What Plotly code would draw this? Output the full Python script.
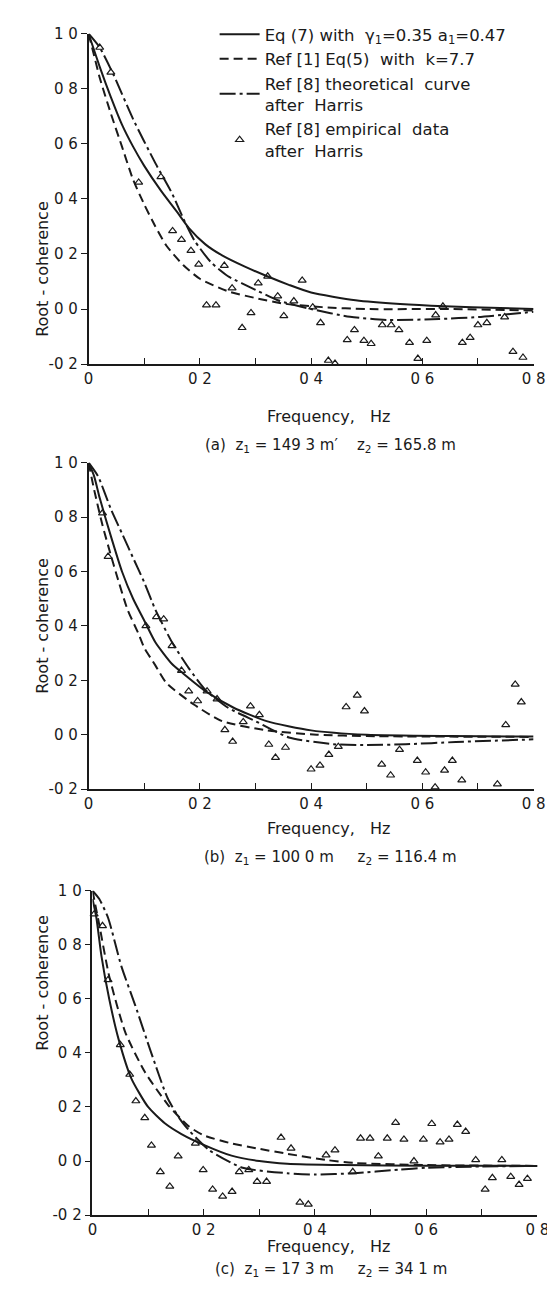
import plotly.graph_objects as go

# values: frequency (Hz) / root-coherence

# --- (a) z1 = 149.3 m, z2 = 165.8 m ---
a_eq7_f = [0, 0.02, 0.04, 0.06, 0.08, 0.10, 0.13, 0.16, 0.18, 0.21, 0.24, 0.28, 0.32, 0.36, 0.40, 0.48, 0.56, 0.64, 0.74, 0.80]
a_eq7_v = [1.0, 0.88, 0.77, 0.67, 0.59, 0.52, 0.43, 0.35, 0.295, 0.235, 0.195, 0.155, 0.12, 0.088, 0.06, 0.032, 0.018, 0.01, 0.004, 0.0]
a_ref1_f = [0, 0.01, 0.02, 0.04, 0.06, 0.08, 0.10, 0.12, 0.14, 0.17, 0.20, 0.25, 0.30, 0.35, 0.42, 0.50, 0.65, 0.80]
a_ref1_v = [1.0, 0.92, 0.84, 0.71, 0.59, 0.47, 0.38, 0.30, 0.23, 0.16, 0.11, 0.065, 0.04, 0.02, 0.007, 0.0, 0.0, -0.005]
a_harris_f = [0, 0.02, 0.045, 0.08, 0.12, 0.15, 0.17, 0.19, 0.22, 0.25, 0.30, 0.34, 0.40, 0.47, 0.54, 0.63, 0.70, 0.80]
a_harris_v = [1.0, 0.95, 0.85, 0.69, 0.53, 0.42, 0.33, 0.25, 0.17, 0.12, 0.07, 0.032, 0.0, -0.028, -0.04, -0.036, -0.029, -0.01]
a_emp_f = [0.02, 0.04, 0.09, 0.13, 0.151, 0.167, 0.184, 0.198, 0.212, 0.229, 0.244, 0.258, 0.276, 0.292,
           0.305, 0.322, 0.340, 0.351, 0.369, 0.384, 0.403, 0.417, 0.431, 0.443, 0.465, 0.478, 0.495, 0.508,
           0.528, 0.544, 0.558, 0.577, 0.592, 0.608, 0.624, 0.637, 0.672, 0.686, 0.700, 0.716, 0.748, 0.763, 0.781]
a_emp_v = [0.95, 0.86, 0.46, 0.48, 0.284, 0.252, 0.212, 0.162, 0.014, 0.014, 0.158, 0.076, -0.068, -0.014,
           0.094, 0.119, 0.047, -0.025, 0.029, 0.104, 0.007, -0.05, -0.187, -0.198, -0.112, -0.076, -0.115, -0.126,
           -0.058, -0.058, -0.076, -0.122, -0.18, -0.115, -0.022, 0.01, -0.122, -0.104, -0.058, -0.05, -0.029, -0.155, -0.176]

# --- (b) z1 = 100.0 m, z2 = 116.4 m ---
b_eq7_f = [0, 0.01, 0.02, 0.04, 0.06, 0.08, 0.10, 0.12, 0.15, 0.17, 0.21, 0.26, 0.32, 0.40, 0.50, 0.65, 0.80]
b_eq7_v = [1.0, 0.95, 0.87, 0.73, 0.60, 0.50, 0.42, 0.34, 0.26, 0.225, 0.16, 0.10, 0.05, 0.016, 0.0, -0.005, -0.007]
b_ref1_f = [0, 0.01, 0.025, 0.04, 0.05, 0.07, 0.09, 0.10, 0.12, 0.14, 0.19, 0.24, 0.32, 0.41, 0.50, 0.80]
b_ref1_v = [1.0, 0.90, 0.77, 0.66, 0.59, 0.46, 0.37, 0.32, 0.255, 0.19, 0.11, 0.05, 0.016, 0.0, -0.005, -0.008]
b_harris_f = [0, 0.017, 0.04, 0.06, 0.08, 0.10, 0.12, 0.15, 0.18, 0.21, 0.25, 0.30, 0.36, 0.44, 0.50, 0.57, 0.66, 0.80]
b_harris_v = [1.0, 0.95, 0.83, 0.74, 0.65, 0.56, 0.46, 0.34, 0.245, 0.165, 0.10, 0.05, -0.01, -0.035, -0.038, -0.035, -0.027, -0.017]
b_emp_f = [0.025, 0.035, 0.103, 0.122, 0.135, 0.15, 0.167, 0.18, 0.196, 0.213, 0.231, 0.245, 0.259, 0.278,
           0.291, 0.307, 0.324, 0.336, 0.354, 0.40, 0.416, 0.432, 0.449, 0.463, 0.483, 0.496, 0.527, 0.543,
           0.559, 0.591, 0.606, 0.623, 0.64, 0.654, 0.671, 0.735, 0.75, 0.767, 0.778]
b_emp_v = [0.815, 0.655, 0.40, 0.433, 0.425, 0.327, 0.236, 0.16, 0.124, 0.16, 0.131, 0.018, -0.025, 0.047,
           0.105, 0.073, -0.036, -0.084, -0.047, -0.127, -0.113, -0.073, -0.044, 0.102, 0.145, 0.087, -0.109, -0.149,
           -0.055, -0.095, -0.138, -0.193, -0.131, -0.095, -0.167, -0.182, 0.036, 0.185, 0.12]

# --- (c) z1 = 17.3 m, z2 = 34.1 m ---
c_eq7_f = [0, 0.007, 0.016, 0.03, 0.047, 0.07, 0.10, 0.13, 0.16, 0.20, 0.25, 0.30, 0.35, 0.45, 0.60, 0.80]
c_eq7_v = [0.97, 0.90, 0.76, 0.60, 0.45, 0.305, 0.20, 0.14, 0.10, 0.06, 0.02, 0.0, -0.01, -0.015, -0.017, -0.018]
c_ref1_f = [0, 0.012, 0.03, 0.059, 0.094, 0.135, 0.172, 0.20, 0.25, 0.30, 0.35, 0.42, 0.47, 0.60, 0.80]
c_ref1_v = [1.0, 0.876, 0.684, 0.476, 0.33, 0.21, 0.13, 0.095, 0.065, 0.045, 0.027, 0.004, -0.007, -0.015, -0.018]
c_harris_f = [0, 0.012, 0.028, 0.052, 0.077, 0.105, 0.135, 0.157, 0.175, 0.21, 0.27, 0.35, 0.40, 0.47, 0.55, 0.60, 0.70, 0.80]
c_harris_v = [1.0, 0.97, 0.90, 0.72, 0.575, 0.404, 0.233, 0.156, 0.11, 0.04, -0.025, -0.045, -0.05, -0.045, -0.032, -0.025, -0.02, -0.018]
c_emp_f = [0.003, 0.018, 0.028, 0.05, 0.067, 0.078, 0.094, 0.106, 0.122, 0.139, 0.154, 0.185, 0.199, 0.216,
           0.234, 0.251, 0.264, 0.281, 0.296, 0.313, 0.339, 0.357, 0.373, 0.388, 0.42, 0.436, 0.468, 0.482,
           0.499, 0.514, 0.53, 0.545, 0.56, 0.578, 0.595, 0.61, 0.625, 0.641, 0.656, 0.671, 0.689, 0.706,
           0.719, 0.736, 0.752, 0.767, 0.782]
c_emp_v = [0.913, 0.87, 0.67, 0.43, 0.32, 0.222, 0.16, 0.058, -0.04, -0.094, 0.018, 0.065, -0.033, -0.105,
           -0.131, -0.113, -0.04, -0.033, -0.076, -0.076, 0.087, 0.047, -0.153, -0.16, 0.022, 0.04, -0.04, 0.084,
           0.084, 0.018, 0.084, 0.142, 0.08, 0.0, 0.08, 0.138, 0.07, 0.08, 0.135, 0.109, 0.004, -0.105,
           -0.062, 0.004, -0.058, -0.087, -0.065]

x_tick_vals = [0, 0.2, 0.4, 0.6, 0.8]
x_tick_text = ["0", "0 2", "0 4", "0 6", "0 8"]
x_minor_vals = [0.1, 0.3, 0.5, 0.7]
y_tick_vals = [-0.2, 0, 0.2, 0.4, 0.6, 0.8, 1.0]
y_tick_text = ["-0 2", "0 0", "0 2", "0 4", "0 6", "0 8", "1 0"]

legend_names = [
    "Eq (7) with  γ<sub>1</sub>=0.35 a<sub>1</sub>=0.47",
    "Ref [1] Eq(5)  with  k=7.7",
    "Ref [8] theoretical  curve<br>after  Harris",
    "Ref [8] empirical  data<br>after  Harris",
]
captions = [
    "(a)  z<sub>1</sub> = 149 3 m′    z<sub>2</sub> = 165.8 m",
    "(b)  z<sub>1</sub> = 100 0 m     z<sub>2</sub> = 116.4 m",
    "(c)  z<sub>1</sub> = 17 3 m     z<sub>2</sub> = 34 1 m",
]

W, H = 555, 1295
FONT = "DejaVu Sans"
INK = "#1a1a1a"

# pixel boxes of the three plot areas: (left, right, top, bottom)
boxes = [(78, 537, 17, 352), (78, 537, 452, 783), (82, 541, 886, 1215)]
xtitle_y = [393, 823, 1258]
caption_y = [423, 852, 1282]

panels = [
    (a_eq7_f, a_eq7_v, a_ref1_f, a_ref1_v, a_harris_f, a_harris_v, a_emp_f, a_emp_v),
    (b_eq7_f, b_eq7_v, b_ref1_f, b_ref1_v, b_harris_f, b_harris_v, b_emp_f, b_emp_v),
    (c_eq7_f, c_eq7_v, c_ref1_f, c_ref1_v, c_harris_f, c_harris_v, c_emp_f, c_emp_v),
]

fig = go.Figure()
layout = {}
annotations = []

for i, (ef, ev, rf, rv, hf, hv, pf, pv) in enumerate(panels):
    sfx = "" if i == 0 else str(i + 1)
    xa, ya = "x" + sfx, "y" + sfx
    first = i == 0
    fig.add_trace(go.Scatter(
        x=ef, y=ev, mode="lines", name=legend_names[0], xaxis=xa, yaxis=ya, showlegend=first,
        line=dict(color=INK, width=2, shape="spline", smoothing=0.6),
    ))
    fig.add_trace(go.Scatter(
        x=rf, y=rv, mode="lines", name=legend_names[1], xaxis=xa, yaxis=ya, showlegend=first,
        line=dict(color=INK, width=2, dash="9px,5px", shape="spline", smoothing=0.6),
    ))
    fig.add_trace(go.Scatter(
        x=hf, y=hv, mode="lines", name=legend_names[2], xaxis=xa, yaxis=ya, showlegend=first,
        line=dict(color=INK, width=2, dash="16px,4px,3px,4px", shape="spline", smoothing=0.6),
    ))
    fig.add_trace(go.Scatter(
        x=pf, y=pv, mode="markers", name=legend_names[3], xaxis=xa, yaxis=ya, showlegend=first,
        cliponaxis=False,
        marker=dict(symbol="triangle-up-open", size=7, color=INK, line=dict(width=1.2)),
    ))

    left, right, top, bottom = boxes[i]
    layout["xaxis" + sfx] = dict(
        domain=[left / W, right / W], range=[0, 0.8], anchor=ya,
        showline=True, linecolor=INK, linewidth=1.6, ticks="inside", ticklen=6, tickwidth=1.4,
        tickcolor=INK, tickvals=x_tick_vals, ticktext=x_tick_text, showgrid=False, zeroline=False,
        minor=dict(tickmode="array", tickvals=x_minor_vals, ticks="inside", ticklen=6,
                   tickwidth=1.4, tickcolor=INK, showgrid=False),
        tickfont=dict(size=15, family=FONT, color=INK),
    )
    layout["yaxis" + sfx] = dict(
        domain=[1 - bottom / H, 1 - top / H], range=[-0.2, 1.0], anchor=xa,
        showline=True, linecolor=INK, linewidth=1.6, ticks="outside", ticklen=6, tickwidth=1.4,
        tickcolor=INK, tickvals=y_tick_vals, ticktext=y_tick_text, showgrid=False, zeroline=False,
        tickfont=dict(size=15, family=FONT, color=INK),
    )
    annotations.append(dict(
        text="Root - coherence", textangle=-90, xref="paper", yref="paper",
        x=19 / W, y=1 - (top + bottom) / 2 / H, showarrow=False,
        font=dict(size=16, family=FONT, color=INK),
    ))
    annotations.append(dict(
        text="Frequency,   Hz", xref="paper", yref="paper",
        x=325 / W, y=1 - xtitle_y[i] / H, showarrow=False,
        font=dict(size=16, family=FONT, color=INK),
    ))
    annotations.append(dict(
        text=captions[i], xref="paper", yref="paper",
        x=328 / W, y=1 - caption_y[i] / H, showarrow=False,
        font=dict(size=15, family=FONT, color=INK),
    ))

fig.update_layout(
    **layout,
    annotations=annotations,
    width=W, height=H, autosize=False,
    margin=dict(l=0, r=0, t=0, b=0),
    paper_bgcolor="white", plot_bgcolor="white",
    showlegend=True,
    legend=dict(
        x=208 / W, y=1, xanchor="left", yanchor="top",
        bgcolor="rgba(0,0,0,0)", itemwidth=40, tracegroupgap=0,
        font=dict(size=16.5, family=FONT, color=INK),
    ),
)

fig.write_html("out.html")
